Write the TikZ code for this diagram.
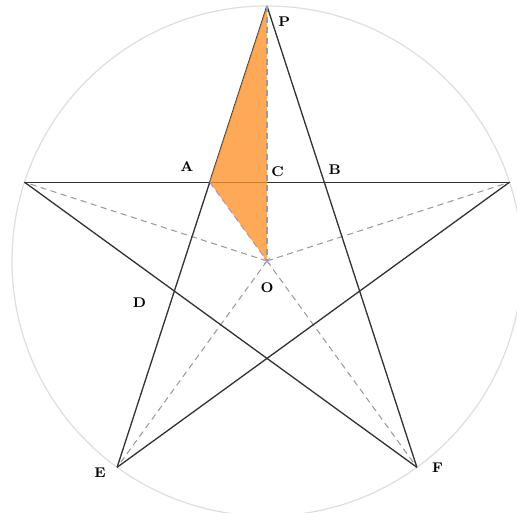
\documentclass[tikz,border=0pt]{standalone}
\usepackage{tikz}
\usetikzlibrary{positioning, calc}
\definecolor{starfill}{RGB}{252, 145, 40}
\definecolor{guide}{RGB}{155, 155, 158}
\definecolor{rim}{RGB}{222, 222, 222}
\definecolor{violet}{RGB}{120, 110, 200}
\begin{document}
\begin{tikzpicture}[
      edge/.style={line width=0.75pt, color=black!80},
      ray/.style={dashed, dash pattern=on 3.5pt off 2.5pt, line width=0.6pt, color=guide},
      lbl/.style={inner sep=0pt, font=\footnotesize\bfseries}]
    \clip (-5.34,-5.04) rectangle (5.0,5.22);
    % five tips of the star
    \coordinate (O) at (0,0);
    \coordinate (P) at (90:5.1);
    \coordinate (vl) at (162:5.1);
    \coordinate (E) at (234:5.1);
    \coordinate (F) at (306:5.1);
    \coordinate (vr) at (18:5.1);
    \coordinate (A) at (intersection of P--E and vl--vr);
    \coordinate (B) at (intersection of P--F and vl--vr);
    \coordinate (C) at (intersection of O--P and vl--vr);
    \coordinate (D) at (intersection of P--E and vl--F);
    \draw[rim, line width=0.7pt] (O) circle (5.1);
    \draw[ray] (O) -- (vl); \draw[ray] (O) -- (E); \draw[ray] (O) -- (F); \draw[ray] (O) -- (vr);
    \draw[edge] (P) -- (E); \draw[edge] (P) -- (F); \draw[edge] (vl) -- (vr);
    \draw[edge] (vl) -- (F); \draw[edge] (vr) -- (E);
    % shaded part
    \fill[starfill, opacity=0.78] (P) -- (A) -- (O) -- cycle;
    \draw[ray] (P) -- (O);
    \draw[ray, color=violet!70] (A) -- (O);
    \draw[violet!70, line width=0.5pt] ($(O)+(-0.06,-0.06)$) -- ($(O)+(0.06,0.06)$) ($(O)+(-0.06,0.06)$) -- ($(O)+(0.06,-0.06)$);
    \node[lbl, below right=0.22 and 0.22 of P] (lP) {P};
    \node[lbl, above left=0.2 and 0.32 of A] (lA) {A};
    \node[lbl, above right=0.1 and 0.08 of C] (lC) {C};
    \node[lbl, above right=0.14 and 0.08 of B] (lB) {B};
    \node[lbl, below left=0.12 and 0.56 of D] (lD) {D};
    \node[lbl, below=0.42 of O] (lO) {O};
    \node[lbl, below left=0 and 0.22 of E] (lE) {E};
    \node[lbl, right=0.3 of F] (lF) {F};
  \end{tikzpicture}
\end{document}
